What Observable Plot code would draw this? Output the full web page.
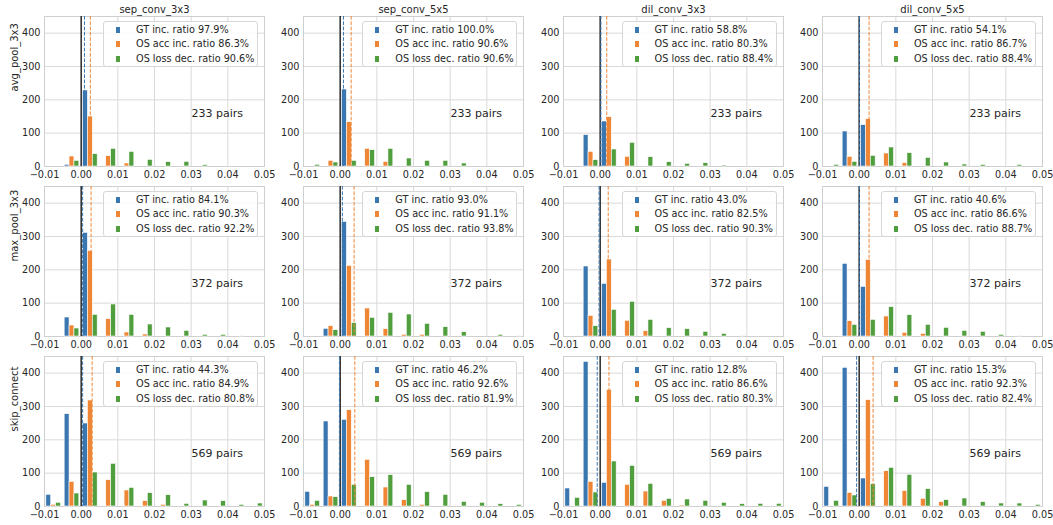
<!DOCTYPE html>
<html>
<head>
<meta charset="utf-8">
<script src="https://cdn.jsdelivr.net/npm/d3@7"></script>
<script src="https://cdn.jsdelivr.net/npm/@observablehq/plot@0.6"></script>
<style>
  html, body { margin: 0; padding: 0; background: white; }
  #fig { position: relative; width: 1053px; height: 525px; background: white; font-family: "DejaVu Sans", sans-serif; color: #262626; overflow: hidden; }
  #fig svg { position: absolute; }
  .legend { position: absolute; box-sizing: border-box; width: 155px; height: 46px; border: 1px solid #d6d6d6; border-radius: 3px; background: rgba(255,255,255,0.85); font-size: 9.7px; }
  .legend .row { position: absolute; left: 0; height: 12px; line-height: 12px; white-space: nowrap; }
  .legend .sw { position: absolute; left: 12px; top: 3px; width: 4px; height: 6px; }
  .legend .tx { position: absolute; left: 32px; top: 0; }
</style>
</head>
<body>
<div id="fig"></div>
<script>
// Histogram bins (left edges) shared by every panel
const binEdges = [-0.01, -0.005, 0, 0.005, 0.01, 0.015, 0.02, 0.025, 0.03, 0.035, 0.04, 0.045];
const binWidth = 0.005;
const xTicks = [-0.01, 0, 0.01, 0.02, 0.03, 0.04, 0.05];
const yTicks = [0, 100, 200, 300, 400];

const colOps = ["sep_conv_3x3", "sep_conv_5x5", "dil_conv_3x3", "dil_conv_5x5"];
const rowOps = ["avg_pool_3x3", "max_pool_3x3", "skip_connect"];
const pairCounts = [233, 372, 569];

const seriesNames = ["GT inc. ratio", "OS acc inc. ratio", "OS loss dec. ratio"];
const seriesColors = ["#3a76af", "#ef8636", "#519e3e"];

// Ratios shown in each legend [row][col]
const gtRatio   = [[97.9, 100.0, 58.8, 54.1], [84.1, 93.0, 43.0, 40.6], [44.3, 46.2, 12.8, 15.3]];
const accRatio  = [[86.3, 90.6, 80.3, 86.7], [90.3, 91.1, 82.5, 86.6], [84.9, 92.6, 86.6, 92.3]];
const lossRatio = [[90.6, 90.6, 88.4, 88.4], [92.2, 93.8, 90.3, 88.7], [80.8, 81.9, 80.3, 82.4]];

// Mean values (dashed lines) [row][col]
const gtMean  = [[0.0009, 0.0009, 0.0002, 0.0001], [0.0004, 0.0006, -0.0003, 0.0001], [0.0004, -0.0002, -0.0008, -0.0007]];
const accMean = [[0.0025, 0.003, 0.0018, 0.0027], [0.0027, 0.0038, 0.0022, 0.0027], [0.003, 0.004, 0.0024, 0.0038]];

// Bin counts [row][col][bin]
const gtCounts = [
  [[0,5,228,0,0,0,0,0,0,0,0,0], [0,0,231,0,0,0,0,0,0,0,0,0], [0,94,135,0,0,0,0,0,0,0,0,0], [0,105,124,0,0,0,0,0,0,0,0,0]],
  [[0,57,311,0,0,0,0,0,0,0,0,0], [0,23,344,0,0,0,0,0,0,0,0,0], [0,210,158,0,0,0,0,0,0,0,0,0], [0,218,149,0,0,0,0,0,0,0,0,0]],
  [[35,277,249,0,0,0,0,0,0,0,0,0], [44,255,260,0,0,0,0,0,0,0,0,0], [54,434,71,0,0,0,0,0,0,0,0,0], [59,416,84,0,0,0,0,0,0,0,0,0]]
];
const accCounts = [
  [[0,30,150,31,9,0,0,0,0,0,0,0], [0,17,133,53,14,0,0,0,0,0,0,0], [0,44,148,29,0,0,0,0,0,0,0,0], [0,29,142,39,10,0,0,0,0,0,0,0]],
  [[0,33,256,52,12,6,0,0,0,0,0,0], [0,31,212,84,22,5,5,0,0,0,0,0], [0,62,231,47,16,0,0,0,0,0,0,0], [0,46,230,60,11,8,0,0,0,0,0,0]],
  [[5,74,318,79,48,16,5,0,0,0,0,0], [5,30,289,140,57,19,5,0,0,0,0,0], [0,74,350,65,45,17,3,0,0,0,0,0], [0,41,319,106,46,23,13,0,0,0,0,0]]
];
const lossCounts = [
  [[0,17,37,53,44,20,13,14,4,0,0,0], [5,12,17,49,53,24,17,17,9,0,0,0], [0,19,51,71,28,13,8,10,3,0,0,0], [5,14,32,57,40,26,12,6,5,0,5,0]],
  [[0,24,65,96,65,36,27,17,5,5,2,0], [0,19,40,56,71,66,38,28,13,0,5,2], [0,31,80,104,50,25,22,14,8,2,0,0], [0,35,50,88,64,35,26,17,14,5,2,0]],
  [[11,39,102,128,56,40,34,8,18,16,5,9], [17,28,65,88,94,65,43,35,14,11,7,5], [26,42,135,122,68,23,21,17,11,7,8,8], [17,33,67,116,95,52,19,24,13,9,9,5]]
];

const fig = document.getElementById("fig");
const mL = 44, mR = 20, mT = 16, mB = 20, innerW = 220, innerH = 150;
const colStep = 259.3, rowStep = 170, firstLeft = 44, firstTop = 15.7;
const fmt2 = d3.format(".2f");

// Side-by-side bars: three series share 80% of each bin
function barsFor(counts, s) {
  const bw = 0.8 * binWidth / 3;
  return counts.map((count, k) => ({
    x1: binEdges[k] + 0.1 * binWidth + s * bw,
    x2: binEdges[k] + 0.1 * binWidth + (s + 1) * bw,
    count
  })).filter(d => d.count > 0);
}

for (let r = 0; r < 3; r++) {
  for (let c = 0; c < 4; c++) {
    const series = [gtCounts[r][c], accCounts[r][c], lossCounts[r][c]];
    const marks = [
      Plot.ruleX(xTicks, {stroke: "#dadada", strokeWidth: 1}),
      Plot.ruleY(yTicks, {stroke: "#dadada", strokeWidth: 1}),
      Plot.frame({stroke: "#cfcfcf", strokeWidth: 1}),
      ...series.map((counts, s) => Plot.rect(barsFor(counts, s), {
        x1: "x1", x2: "x2", y1: 0, y2: "count",
        fill: seriesColors[s], stroke: "white", strokeWidth: 0.6
      })),
      Plot.ruleX([0], {stroke: "#111", strokeWidth: 1.3}),
      Plot.ruleX([gtMean[r][c]], {stroke: seriesColors[0], strokeWidth: 1, strokeDasharray: "3.7,1.6"}),
      Plot.ruleX([accMean[r][c]], {stroke: seriesColors[1], strokeWidth: 1, strokeDasharray: "3.7,1.6"}),
      Plot.text([`${pairCounts[r]} pairs`], {
        text: d => d, frameAnchor: "top-left", dx: 147, dy: 96.6,
        textAnchor: "start", lineAnchor: "middle", fontSize: 11, fill: "#262626"
      })
    ];
    if (r === 0) {
      marks.push(Plot.text([colOps[c]], {
        text: d => d, frameAnchor: "top", dy: -6.5, lineAnchor: "middle", fontSize: 10, fill: "#262626"
      }));
    }
    if (c === 0) {
      marks.push(Plot.text([rowOps[r]], {
        text: d => d, frameAnchor: "left", dx: -30, rotate: -90, lineAnchor: "middle", fontSize: 10, fill: "#262626"
      }));
    }
    const chart = Plot.plot({
      width: mL + innerW + mR,
      height: mT + innerH + mB,
      marginLeft: mL, marginRight: mR, marginTop: mT, marginBottom: mB,
      style: {background: "transparent", overflow: "visible", fontFamily: "DejaVu Sans", fontSize: "9.7px", color: "#262626"},
      x: {domain: [-0.01, 0.05], ticks: xTicks, tickFormat: fmt2, tickSize: 0, tickPadding: 5, label: null},
      y: {domain: [0, 450], ticks: yTicks, tickSize: 0, tickPadding: 4, label: null},
      marks
    });
    const axLeft = firstLeft + c * colStep;
    const axTop = firstTop + r * rowStep;
    chart.style.left = (axLeft - mL) + "px";
    chart.style.top = (axTop - mT) + "px";
    fig.appendChild(chart);

    // Legend box in the upper right of the panel
    const lg = document.createElement("div");
    lg.className = "legend";
    lg.style.left = (axLeft + 59) + "px";
    lg.style.top = (axTop + 5) + "px";
    const ratios = [gtRatio[r][c], accRatio[r][c], lossRatio[r][c]];
    const rowY = [2.6, 16.6, 31];
    ratios.forEach((v, s) => {
      const row = document.createElement("div");
      row.className = "row";
      row.style.top = rowY[s] + "px";
      row.style.width = "100%";
      row.innerHTML = `<span class="sw" style="background:${seriesColors[s]}"></span><span class="tx">${seriesNames[s]} ${v.toFixed(1)}%</span>`;
      lg.appendChild(row);
    });
    fig.appendChild(lg);
  }
}
</script>
</body>
</html>
